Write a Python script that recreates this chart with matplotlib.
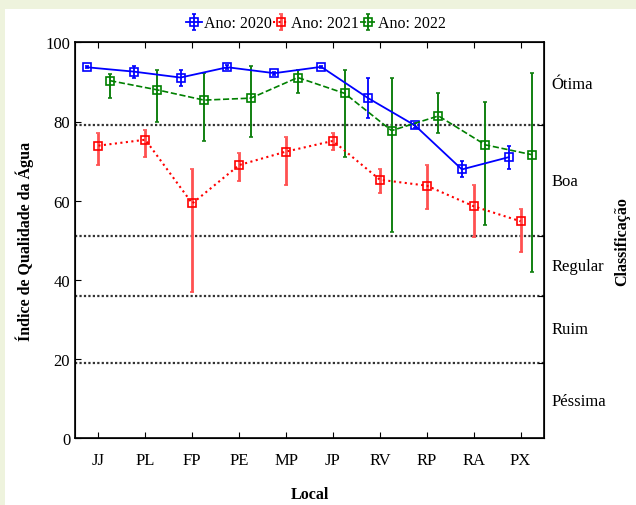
import numpy as np
import matplotlib
matplotlib.use("Agg")
import matplotlib.pyplot as plt
import matplotlib.transforms as mtransforms

plt.rcParams['font.family'] = ['Liberation Serif', 'DejaVu Serif']

# dados
locais = ['JJ', 'PL', 'FP', 'PE', 'MP', 'JP', 'RV', 'RP', 'RA', 'PX']

iqa_2020 = [93.7, 92.6, 91.1, 93.7, 92.2, 93.8, 85.9, 79.0, 67.9, 71.0]
lo_2020 = [93.4, 90.9, 89.0, 93.2, 91.8, 93.5, 80.9, 78.3, 65.9, 68.0]
hi_2020 = [94.0, 94.1, 93.1, 94.2, 92.6, 94.1, 91.0, 79.7, 70.0, 73.9]

iqa_2021 = [73.9, 75.4, 59.3, 69.0, 72.4, 75.1, 65.3, 63.8, 58.6, 54.8]
lo_2021 = [69.0, 71.0, 37.0, 65.0, 64.0, 72.9, 62.0, 58.0, 50.9, 47.0]
hi_2021 = [77.0, 77.9, 68.0, 72.0, 76.0, 77.0, 68.0, 69.0, 64.0, 58.0]

iqa_2022 = [90.3, 88.0, 85.4, 85.9, 91.1, 87.1, 77.7, 81.4, 74.1, 71.6]
lo_2022 = [86.0, 80.0, 75.0, 76.0, 87.1, 71.1, 52.0, 77.0, 53.9, 41.9]
hi_2022 = [92.0, 93.1, 92.2, 94.1, 93.1, 93.1, 91.0, 87.1, 85.0, 92.2]

# limites das classes (IQA) e nomes
limites = [19, 36, 51, 79]
classes = ['Péssima', 'Ruim', 'Regular', 'Boa', 'Ótima']
centros = [9.5, 27.5, 43.5, 65, 89.5]

fig = plt.figure(figsize=(6.36, 5.06), dpi=100, facecolor='#EEF3DD')
# painel branco
fig.patches.append(plt.Rectangle((5/636, 0), 1, 1 - 10/506, transform=fig.transFigure,
                                 facecolor='white', edgecolor='none', zorder=-10))
ax = fig.add_axes([75/636, 1 - 439.3/506, 469/636, 396/506])

x = np.arange(len(locais))

series = [
    ('Ano: 2020', iqa_2020, lo_2020, hi_2020, -0.25, '#0000FF', '#0000FF', '-', 1.3, 1.3),
    ('Ano: 2021', iqa_2021, lo_2021, hi_2021, 0.0, '#FF0000', '#FF5050', ':', 1.5, 2.0),
    ('Ano: 2022', iqa_2022, lo_2022, hi_2022, 0.25, '#008000', '#108010', '--', 1.2, 1.4),
]

handles = []
for nome, m, lo, hi, off, cor, cor_err, ls, lw, lwe in series:
    m = np.array(m)
    yerr = [m - np.array(lo), np.array(hi) - m]
    h = ax.errorbar(x + off, m, yerr=yerr, color=cor, ecolor=cor_err, linestyle=ls,
                    linewidth=lw, elinewidth=lwe, capsize=1.6, capthick=1,
                    marker='s', markersize=5.5, markerfacecolor='none',
                    markeredgecolor=cor, markeredgewidth=1.2, label=nome, zorder=3)
    handles.append(h)

for lim in limites:
    ax.axhline(lim, color='#333333', linestyle=(0, (1, 1)), linewidth=1.6, zorder=1)

ax.set_xlim(-0.5, 9.5)
ax.set_ylim(0, 100)
ax.set_xticks(x)
ax.set_xticklabels(locais, fontsize=12)
ax.set_yticks([0, 20, 40, 60, 80, 100])
ax.tick_params(axis='y', labelsize=12, direction='in', length=4, right=False)
ax.tick_params(axis='x', direction='in', length=4, top=True, pad=10)
for s in ax.spines.values():
    s.set_linewidth(1.2)

ax2 = ax.twinx()
ax2.set_ylim(0, 100)
ax2.set_yticks(limites)
ax2.set_yticklabels([])
ax2.tick_params(axis='y', direction='in', length=4)

trans = mtransforms.blended_transform_factory(ax.transAxes, ax.transData)
for nome, c in zip(classes, centros):
    ax.text(1.015, c, nome, transform=trans, ha='left', va='center', fontsize=12)

ax.set_ylabel('Índice de Qualidade da Água', fontsize=11.5, fontweight='bold', labelpad=8)
ax.set_xlabel('Local', fontsize=11.5, fontweight='bold', labelpad=13)
ax.text(1.166, 0.5, 'Classificação', transform=ax.transAxes, rotation=90,
        ha='center', va='center', fontsize=11.5, fontweight='bold')

fig.legend(handles=handles, loc='upper center', bbox_to_anchor=(0.497, 1 - 5/506),
           ncol=3, frameon=False, fontsize=11.5, handlelength=1.0, handletextpad=0.1,
           columnspacing=0.1, borderpad=0.2)

fig.savefig('out.png', dpi=100, facecolor=fig.get_facecolor())
